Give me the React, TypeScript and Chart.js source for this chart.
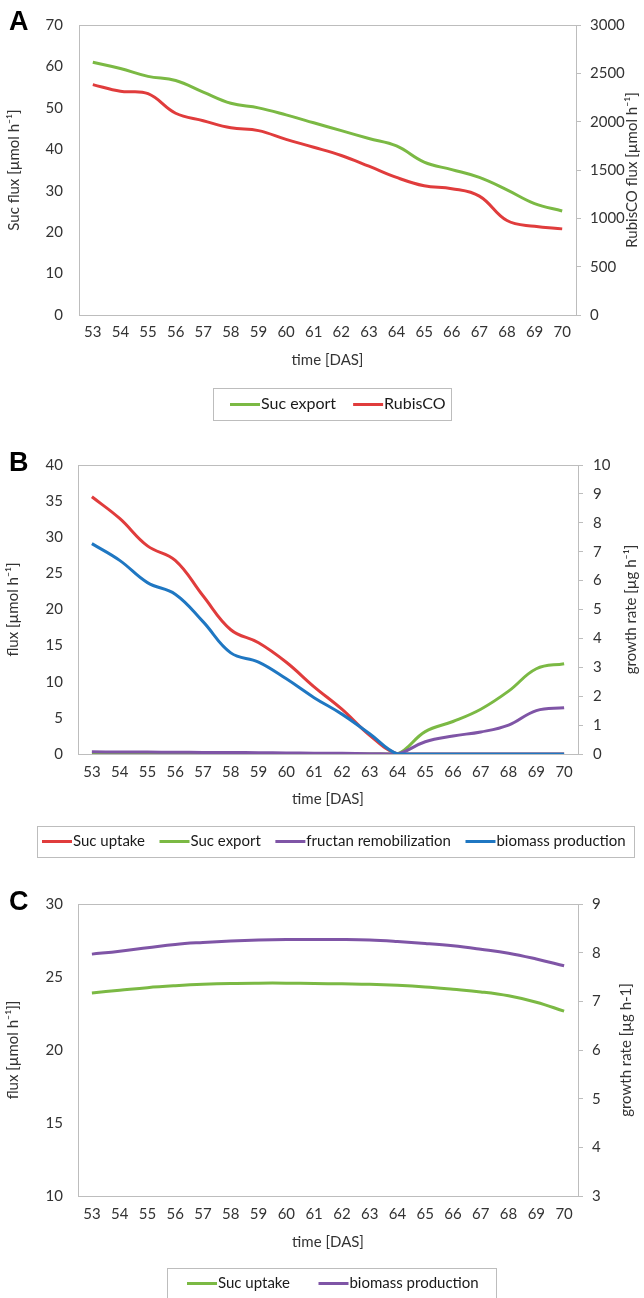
import React, { useEffect, useRef } from 'react';
import { Chart, registerables } from 'chart.js';
Chart.register(...registerables);

// ---------- data ----------
const days = ['53', '54', '55', '56', '57', '58', '59', '60', '61', '62', '63', '64', '65', '66', '67', '68', '69', '70'];

// Panel A
const sucExportA = [61.0, 59.5, 57.6, 56.6, 53.8, 51.1, 50.0, 48.3, 46.4, 44.5, 42.6, 40.8, 36.9, 35.1, 33.2, 30.2, 26.9, 25.1];
const rubiscoA = [2383, 2314, 2289, 2087, 2010, 1937, 1907, 1817, 1736, 1650, 1539, 1423, 1337, 1307, 1230, 977, 917, 891];

// Panel B
const sucUptakeB = [35.6, 32.6, 28.8, 26.8, 21.9, 17.2, 15.4, 12.7, 9.3, 6.2, 2.6, 0, 0, 0, 0, 0, 0, 0];
const sucExportB = [0, 0, 0, 0, 0, 0, 0, 0, 0, 0, 0, 0, 3.1, 4.5, 6.2, 8.7, 11.8, 12.5];
const fructanB = [0.3, 0.28, 0.26, 0.24, 0.22, 0.2, 0.18, 0.15, 0.12, 0.09, 0.05, 0, 1.7, 2.5, 3.05, 4.0, 6.0, 6.4];
const biomassB = [7.28, 6.7, 5.93, 5.53, 4.58, 3.5, 3.18, 2.6, 1.95, 1.38, 0.7, 0, 0, 0, 0, 0, 0, 0];

// Panel C
const sucUptakeC = [23.91, 24.09, 24.27, 24.4, 24.5, 24.56, 24.58, 24.58, 24.56, 24.53, 24.5, 24.43, 24.32, 24.16, 23.98, 23.71, 23.27, 22.66];
const biomassC = [7.97, 8.03, 8.1, 8.17, 8.21, 8.24, 8.26, 8.27, 8.27, 8.27, 8.26, 8.23, 8.19, 8.14, 8.07, 7.99, 7.87, 7.73];

// axis ranges / titles
const axisA = { yMin: 0, yMax: 70, yStep: 10, y1Min: 0, y1Max: 3000, y1Step: 500, yTitle: 'Suc flux [µmol h⁻¹]', y1Title: 'RubisCO flux [µmol h⁻¹]' };
const axisB = { yMin: 0, yMax: 40, yStep: 5, y1Min: 0, y1Max: 10, y1Step: 1, yTitle: 'flux [µmol h⁻¹]', y1Title: 'growth rate [µg h⁻¹]' };
const axisC = { yMin: 10, yMax: 30, yStep: 5, y1Min: 3, y1Max: 9, y1Step: 1, yTitle: 'flux [µmol h⁻¹]]', y1Title: 'growth rate [µg h-1]' };
const xTitle = 'time [DAS]';

// ---------- styles ----------
const GREEN = '#7bb944';
const RED = '#e03c3c';
const PURPLE = '#7f55a6';
const BLUE = '#1f77c2';
const AXIS = '#bdbdbd';
const TEXT = '#333333';
const FONT = "Lato, 'Open Sans', sans-serif";
const FS = 15;
const LEG_W = 30;

// legend marker: a 30px line drawn right next to the label text
function legendLine(color: string, fs: number) {
  const off = fs / 2 - 1;
  const w = Math.ceil(2 * (LEG_W / 2 + off)) + 2;
  const c = document.createElement('canvas');
  c.width = w;
  c.height = 3;
  const ctx = c.getContext('2d')!;
  ctx.fillStyle = color;
  ctx.fillRect(w / 2 - LEG_W / 2 + off, 0, LEG_W, 3);
  return c;
}

// later series are drawn on top (as in the original spreadsheet chart)
const line = (label: string, data: number[], color: string, axis: string, fs: number, idx: number) => ({
  label,
  data,
  borderColor: color,
  backgroundColor: color,
  borderWidth: 3,
  pointRadius: 0,
  pointStyle: legendLine(color, fs),
  tension: 0.4,
  fill: false,
  yAxisID: axis,
  order: 10 - idx,
});

const plotBox = {
  id: 'plotBox',
  beforeDatasetsDraw(chart: any) {
    const { ctx, chartArea } = chart;
    ctx.save();
    ctx.strokeStyle = AXIS;
    ctx.lineWidth = 1;
    ctx.strokeRect(Math.round(chartArea.left) + 0.5, Math.round(chartArea.top) + 0.5,
      Math.round(chartArea.right - chartArea.left), Math.round(chartArea.bottom - chartArea.top));
    ctx.restore();
  },
};

function hitExtent(lg: any) {
  let l = Infinity, r = -Infinity, t = Infinity, b = -Infinity;
  for (const h of lg.legendHitBoxes) {
    l = Math.min(l, h.left);
    r = Math.max(r, h.left + h.width);
    t = Math.min(t, h.top);
    b = Math.max(b, h.top + h.height);
  }
  return { l, r, t, b };
}

// places the legend so that its frame starts at opts.frameLeft, and draws the frame
const legendFrame = {
  id: 'legendFrame',
  afterUpdate(chart: any, _args: any, opts: any) {
    const lg = chart.legend;
    if (!lg || !lg.legendHitBoxes || !lg.legendHitBoxes.length) return;
    const { l } = hitExtent(lg);
    const dx = opts.frameLeft - (l + opts.off - opts.padL);
    lg.left += dx;
    lg.right += dx;
    for (const h of lg.legendHitBoxes) h.left += dx;
  },
  afterDraw(chart: any, _args: any, opts: any) {
    const lg = chart.legend;
    if (!lg || !lg.legendHitBoxes || !lg.legendHitBoxes.length) return;
    const { l, r, t, b } = hitExtent(lg);
    const ctx = chart.ctx;
    ctx.save();
    ctx.strokeStyle = AXIS;
    ctx.lineWidth = 1;
    const x0 = Math.round(l + opts.off - opts.padL);
    const x1 = Math.round(r + opts.padR);
    const y0 = Math.round(t - opts.padY);
    const y1 = Math.round(b + opts.padY);
    ctx.strokeRect(x0 + 0.5, y0 + 0.5, x1 - x0, y1 - y0);
    ctx.restore();
  },
};

const rightTitle = {
  id: 'rightTitle',
  afterDraw(chart: any, _args: any, opts: any) {
    const ctx = chart.ctx;
    const y = (chart.chartArea.top + chart.chartArea.bottom) / 2;
    ctx.save();
    ctx.translate(opts.x, y);
    ctx.rotate(-Math.PI / 2);
    ctx.fillStyle = TEXT;
    ctx.font = `${FS}px ${FONT}`;
    ctx.textAlign = 'center';
    ctx.textBaseline = 'middle';
    ctx.fillText(opts.text, 0, 0);
    ctx.restore();
  },
};

interface Lay {
  plotLeft: number; plotRight: number; xHeight: number; bottomPad: number;
  yLabelPad: number; yTitlePad: number; y1LabelPad: number; y1TitleX: number;
  xLabelPad: number; xTitlePadBottom: number;
  legendPad: number; legendFont: number; frameLeft: number; padL: number; padR: number; padY: number;
}

function makeConfig(datasets: any[], ax: any, L: Lay) {
  return {
    type: 'line' as const,
    data: { labels: days, datasets },
    plugins: [plotBox, legendFrame, rightTitle],
    options: {
      animation: false as const,
      responsive: false,
      devicePixelRatio: 1,
      layout: { padding: { top: 18, left: 0, right: 0, bottom: L.bottomPad } },
      plugins: {
        tooltip: { enabled: false },
        legend: {
          position: 'bottom' as const,
          labels: {
            usePointStyle: true,
            pointStyleWidth: LEG_W,
            boxHeight: 3,
            padding: L.legendPad,
            color: '#1a1a1a',
            font: { family: FONT, size: L.legendFont },
            sort: (a: any, b: any) => a.datasetIndex - b.datasetIndex,
          },
        },
        legendFrame: { frameLeft: L.frameLeft, off: L.legendFont / 2 - 1, padL: L.padL, padR: L.padR, padY: L.padY },
        rightTitle: { text: ax.y1Title, x: L.y1TitleX },
      },
      scales: {
        x: {
          offset: true,
          grid: { display: false, drawTicks: false },
          border: { display: true, color: AXIS },
          ticks: { color: TEXT, font: { family: FONT, size: FS }, padding: L.xLabelPad, maxRotation: 0, autoSkip: false },
          title: { display: true, text: xTitle, color: TEXT, font: { family: FONT, size: FS }, padding: { top: 0, bottom: L.xTitlePadBottom } },
          afterFit: (s: any) => { s.height = L.xHeight; },
        },
        y: {
          position: 'left' as const,
          min: ax.yMin,
          max: ax.yMax,
          grid: { display: false, drawTicks: false },
          border: { display: true, color: AXIS },
          ticks: { stepSize: ax.yStep, color: TEXT, font: { family: FONT, size: FS }, padding: L.yLabelPad },
          title: { display: true, text: ax.yTitle, color: TEXT, font: { family: FONT, size: FS }, padding: { top: L.yTitlePad, bottom: 0 } },
          afterFit: (s: any) => { s.width = L.plotLeft; },
        },
        y1: {
          position: 'right' as const,
          min: ax.y1Min,
          max: ax.y1Max,
          grid: { display: true, drawOnChartArea: false, drawTicks: true, tickLength: 5, color: AXIS },
          border: { display: true, color: AXIS },
          ticks: { stepSize: ax.y1Step, color: TEXT, font: { family: FONT, size: FS }, padding: L.y1LabelPad, callback: (v: any) => String(v) },
          afterFit: (s: any) => { s.width = 644 - L.plotRight; },
        },
      },
    },
  };
}

function Panel({ top, height, config }: { top: number; height: number; config: any }) {
  const ref = useRef<HTMLCanvasElement>(null);
  useEffect(() => {
    if (!ref.current) return;
    const chart = new Chart(ref.current, config);
    return () => chart.destroy();
  }, []);
  return (
    <canvas ref={ref} width={644} height={height}
      style={{ position: 'absolute', left: 0, top, width: 644, height }} />
  );
}

const letterStyle = (top: number): React.CSSProperties => ({
  position: 'absolute', left: 9, top, fontFamily: "'Liberation Sans', Arial, sans-serif",
  fontWeight: 'bold', fontSize: 27, lineHeight: '27px', color: '#000',
});

const layA: Lay = {
  plotLeft: 79, plotRight: 576, xHeight: 71, bottomPad: 6,
  yLabelPad: 16, yTitlePad: 5, y1LabelPad: 9, y1TitleX: 632,
  xLabelPad: 8, xTitlePadBottom: 17,
  legendPad: 10, legendFont: 16, frameLeft: 213, padL: 17, padR: 5, padY: 8,
};
const layB: Lay = {
  plotLeft: 78, plotRight: 578, xHeight: 72, bottomPad: 10,
  yLabelPad: 15, yTitlePad: 4, y1LabelPad: 10, y1TitleX: 631,
  xLabelPad: 9, xTitlePadBottom: 18,
  legendPad: 8, legendFont: 15, frameLeft: 37, padL: 5, padR: 8, padY: 8,
};
const layC: Lay = {
  plotLeft: 78, plotRight: 578, xHeight: 58, bottomPad: 7,
  yLabelPad: 15, yTitlePad: 4, y1LabelPad: 9, y1TitleX: 626,
  xLabelPad: 9, xTitlePadBottom: 3,
  legendPad: 22, legendFont: 15, frameLeft: 167, padL: 20, padR: 17, padY: 8,
};

export default function App() {
  const cfgA = makeConfig([
    line('Suc export', sucExportA, GREEN, 'y', layA.legendFont, 0),
    line('RubisCO', rubiscoA, RED, 'y1', layA.legendFont, 1),
  ], axisA, layA);
  const cfgB = makeConfig([
    line('Suc uptake', sucUptakeB, RED, 'y', layB.legendFont, 0),
    line('Suc export', sucExportB, GREEN, 'y', layB.legendFont, 1),
    line('fructan remobilization', fructanB, PURPLE, 'y', layB.legendFont, 2),
    line('biomass production', biomassB, BLUE, 'y1', layB.legendFont, 3),
  ], axisB, layB);
  const cfgC = makeConfig([
    line('Suc uptake', sucUptakeC, GREEN, 'y', layC.legendFont, 0),
    line('biomass production', biomassC, PURPLE, 'y1', layC.legendFont, 1),
  ], axisC, layC);
  return (
    <div style={{ position: 'absolute', left: 0, top: 0, width: 644, height: 1298, background: '#fff', overflow: 'hidden' }}>
      <Panel top={0} height={428} config={cfgA} />
      <Panel top={441} height={428} config={cfgB} />
      <Panel top={880} height={428} config={cfgC} />
      <div style={letterStyle(8)}>A</div>
      <div style={letterStyle(449)}>B</div>
      <div style={letterStyle(888)}>C</div>
    </div>
  );
}
